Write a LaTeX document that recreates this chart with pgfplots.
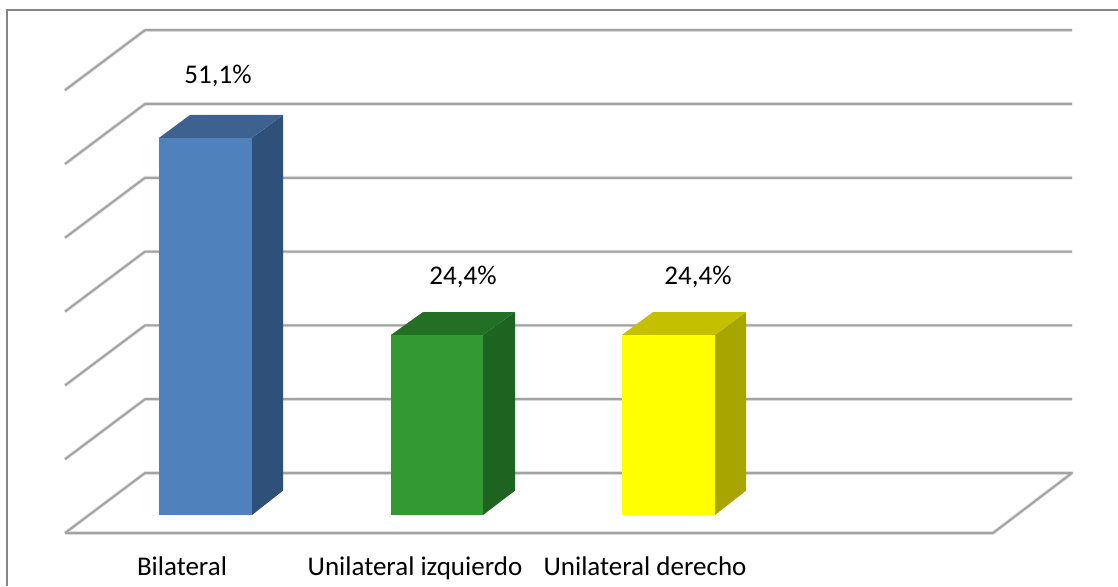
\documentclass[border=0pt]{standalone}
\usepackage{fontspec}
\setmainfont{Carlito}
\usepackage{pgfplots}
\pgfplotsset{compat=1.18}
\definecolor{gridcore}{HTML}{A3A3A3}
\definecolor{gridhalo}{HTML}{E2E2E2}
\definecolor{framegray}{HTML}{858585}
\definecolor{blueF}{HTML}{4F81BD}
\definecolor{blueT}{HTML}{3E628F}
\definecolor{blueS}{HTML}{2F5078}
\definecolor{greenF}{HTML}{339933}
\definecolor{greenT}{HTML}{246F26}
\definecolor{greenS}{HTML}{1F6321}
\definecolor{yelF}{HTML}{FFFF00}
\definecolor{yelT}{HTML}{C4C000}
\definecolor{yelS}{HTML}{A8A400}
% one wall gridline in two strokes: soft halo, then core
\newcommand{\wall}[2]{%
  \addplot[gridhalo, line width=3.6pt, line join=round] coordinates {(65,#1) (145,#2) (1072,#2)};
  \addplot[gridcore, line width=2pt, line join=round] coordinates {(65,#1) (145,#2) (1072,#2)};
}
\begin{document}
\begin{tikzpicture}
\begin{axis}[
  scale only axis, width=1118pt, height=586pt,
  xmin=0, xmax=1118, ymin=-9.62, ymax=69.78,
  axis lines=none, clip=true,
  font=\fontsize{27}{31}\selectfont,
]
% full drawing area
\path (axis cs:0,-9.62) rectangle (axis cs:1118,69.78);
% outer frame, open to the right and at the bottom
\addplot[framegray, line width=1.5pt] coordinates {(7,-9.62) (7,68.4) (1118,68.4)};
% walls at ten-percent steps
\wall{7.56}{15.69}
\wall{17.56}{25.69}
\wall{27.56}{35.69}
\wall{37.56}{45.69}
\wall{47.56}{55.69}
\wall{57.56}{65.69}
% floor outline
\addplot[gridhalo, line width=3.6pt, line join=round] coordinates {(65,-2.44) (993,-2.44) (1072,5.69) (145,5.69) (65,-2.44)};
\addplot[gridcore, line width=2pt, line join=round] coordinates {(65,-2.44) (993,-2.44) (1072,5.69) (145,5.69) (65,-2.44)};
% Bilateral
\addplot[fill=blueS, draw=none] coordinates {(252,0) (283,3.3) (283,54.2) (252,51.1)} --cycle;
\addplot[fill=blueT, draw=none] coordinates {(159,51.1) (252,51.1) (283,54.2) (190,54.2)} --cycle;
\addplot[fill=blueF, draw=none] coordinates {(159,0) (252,0) (252,51.1) (159,51.1)} --cycle;
% Unilateral izquierdo
\addplot[fill=greenS, draw=none] coordinates {(483,0) (515,3.3) (515,27.5) (483,24.4)} --cycle;
\addplot[fill=greenT, draw=none] coordinates {(391,24.4) (483,24.4) (515,27.5) (423,27.5)} --cycle;
\addplot[fill=greenF, draw=none] coordinates {(391,0) (483,0) (483,24.4) (391,24.4)} --cycle;
% Unilateral derecho
\addplot[fill=yelS, draw=none] coordinates {(715,0) (746,3.3) (746,27.5) (715,24.4)} --cycle;
\addplot[fill=yelT, draw=none] coordinates {(622,24.4) (715,24.4) (746,27.5) (653,27.5)} --cycle;
\addplot[fill=yelF, draw=none] coordinates {(622,0) (715,0) (715,24.4) (622,24.4)} --cycle;
% value labels
\node[black, anchor=base] at (axis cs:218,58.5) {51,1\%};
\node[black, anchor=base] at (axis cs:463,31.2) {24,4\%};
\node[black, anchor=base] at (axis cs:698,31.2) {24,4\%};
% category labels
\node[black, anchor=base] at (axis cs:182,-8.13) {Bilateral};
\node[black, anchor=base] at (axis cs:415,-8.13) {Unilateral izquierdo};
\node[black, anchor=base] at (axis cs:645,-8.13) {Unilateral derecho};
\end{axis}
\end{tikzpicture}
\end{document}
